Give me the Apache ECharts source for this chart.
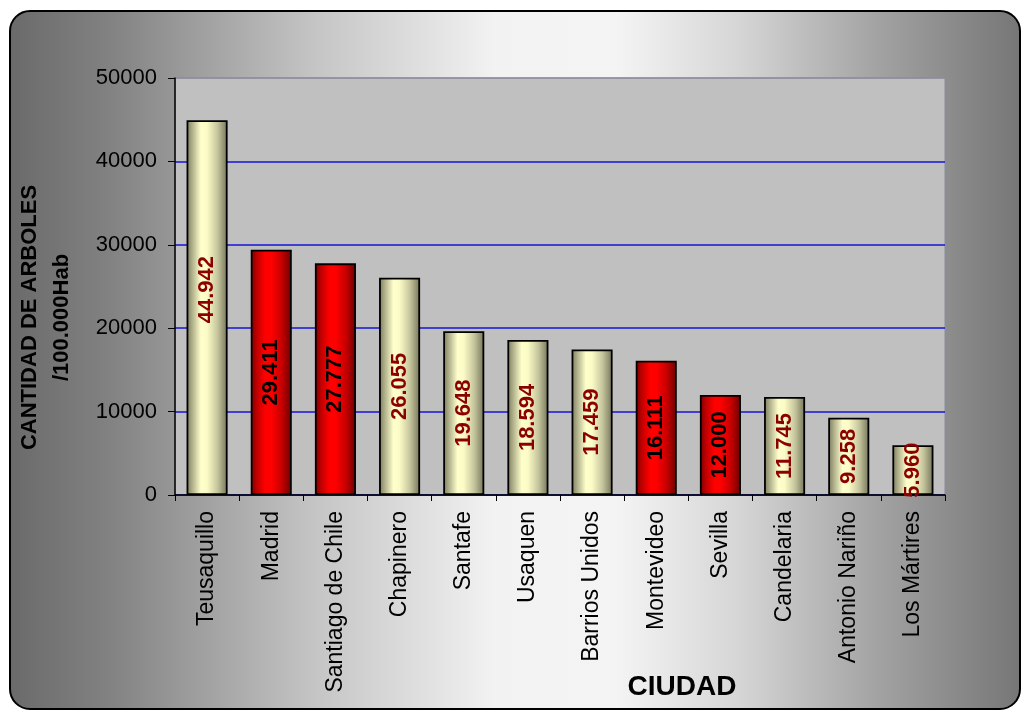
<!DOCTYPE html>
<html>
<head>
<meta charset="utf-8">
<script src="https://cdn.jsdelivr.net/npm/echarts@6/dist/echarts.min.js"></script>
<style>html,body{margin:0;padding:0;background:#fff;}#c{width:1023px;height:710px;}</style>
</head>
<body>
<div id="c"></div>
<script>
var categories = ['Teusaquillo','Madrid','Santiago de Chile','Chapinero','Santafe','Usaquen','Barrios Unidos','Montevideo','Sevilla','Candelaria','Antonio Nariño','Los Mártires'];
var values = [44942, 29411, 27777, 26055, 19648, 18594, 17459, 16111, 12000, 11745, 9258, 5960];
var kinds = ['c','r','r','c','c','c','c','r','r','c','c','c'];
var yTicks = [0, 10000, 20000, 30000, 40000, 50000];

var creamFill = new echarts.graphic.LinearGradient(0,0,1,0,[
  {offset:0,color:'#7a7a5e'},{offset:0.15,color:'#b4b48e'},{offset:0.35,color:'#ffffcc'},
  {offset:0.5,color:'#fbfbc6'},{offset:0.75,color:'#c6c69e'},{offset:1,color:'#74745a'}]);
var redFill = new echarts.graphic.LinearGradient(0,0,1,0,[
  {offset:0,color:'#7a0000'},{offset:0.15,color:'#c00000'},{offset:0.35,color:'#ff0000'},
  {offset:0.5,color:'#ff0000'},{offset:0.75,color:'#c80000'},{offset:1,color:'#6a0000'}]);

function fmt(v){ return String(v).replace(/\B(?=(\d{3})+(?!\d))/g,'.'); }

var data = values.map(function(v,i){
  var red = kinds[i]==='r';
  var lbl = {color: red?'#000000':'#8b0000'};
  if (i === 0) lbl.offset = [18,0];
  return {value:v, itemStyle:{color: red?redFill:creamFill}, label:lbl};
});

var chart = echarts.init(document.getElementById('c'), null, {renderer:'canvas'});
chart.setOption({
  animation:false,
  backgroundColor:'#ffffff',
  graphic:[{
    type:'rect', z:-10, silent:true,
    shape:{x:10,y:11,width:1010,height:698,r:20},
    style:{
      fill:new echarts.graphic.LinearGradient(0,0,1,0,[
        {offset:0,color:'#6a6a6a'},{offset:0.1,color:'#828282'},{offset:0.3,color:'#c4c4c4'},
        {offset:0.48,color:'#f2f2f2'},{offset:0.6,color:'#f4f4f4'},{offset:0.72,color:'#d6d6d6'},
        {offset:0.86,color:'#a2a2a2'},{offset:1,color:'#767676'}]),
      stroke:'#000', lineWidth:2
    }
  }],
  grid:{left:175, top:78, right:78, bottom:215, show:true, backgroundColor:'#c0c0c0', borderColor:'#8c8c9c', borderWidth:1, containLabel:false, outerBoundsMode:'none'},
  xAxis:{
    type:'category', data:categories,
    name:'CIUDAD', nameLocation:'middle', nameGap:178, nameMoveOverlap:false,
    nameTextStyle:{fontFamily:'Liberation Sans', fontSize:28, fontWeight:'bold', color:'#000', padding:[0,0,0,244]},
    axisLine:{lineStyle:{color:'#000', width:1.5}},
    axisTick:{show:true, length:6, lineStyle:{color:'#000'}, alignWithLabel:false},
    axisLabel:{rotate:90, fontFamily:'Liberation Sans', fontSize:23, color:'#000', margin:16, interval:0}
  },
  yAxis:{
    type:'value', min:0, max:50000, interval:10000,
    name:'CANTIDAD DE ARBOLES\n/100.000Hab', nameLocation:'middle', nameGap:97, nameRotate:90, nameMoveOverlap:false,
    nameTextStyle:{fontFamily:'Liberation Sans', fontSize:22, fontWeight:'bold', color:'#000', lineHeight:32, padding:[0,62,0,0]},
    axisLine:{show:true, lineStyle:{color:'#000', width:1.5}},
    axisTick:{show:true, length:7, lineStyle:{color:'#000'}},
    axisLabel:{fontFamily:'Liberation Sans', fontSize:22, color:'#000', margin:18,
      formatter:function(v){ return yTicks.indexOf(v)>=0 ? String(v) : ''; }},
    splitLine:{show:true, lineStyle:{width:1.5, color:['#1414d8','#1414d8','#1414d8','#1414d8','#1414d8','#8c8c9c']}}
  },
  series:[{
    type:'bar', data:data, barCategoryGap:'36%',
    itemStyle:{borderColor:'#000', borderWidth:1.8},
    label:{show:true, position:'inside', rotate:90, fontFamily:'Liberation Sans', fontSize:22, fontWeight:'bold',
      formatter:function(p){ return fmt(p.value); }}
  }]
});
</script>
</body>
</html>
